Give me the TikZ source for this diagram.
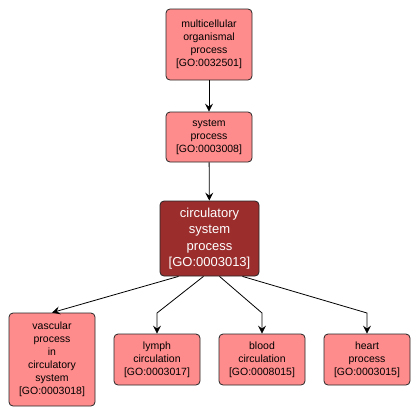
\documentclass[tikz,border=0pt]{standalone}
\usepackage{fontspec}
\setmainfont{Liberation Sans}
\usetikzlibrary{arrows.meta}
\definecolor{lightgo}{RGB}{255,140,140}
\definecolor{darkgo}{RGB}{155,45,45}
\begin{document}
\begin{tikzpicture}[x=1pt,y=-1pt,
  gobox/.style={draw=black!85, line width=0.8pt, rounded corners=4pt, fill=lightgo, align=center,
    inner sep=0pt, minimum width=86pt, font=\fontsize{10.5}{13}\selectfont},
  godark/.style={gobox, fill=darkgo, text=white, minimum width=99pt, minimum height=75pt,
    font=\fontsize{13}{16.5}\selectfont},
  arr/.style={draw=black, line width=0.8pt, -{Stealth[length=8pt,width=8pt,inset=3pt]}}]
\useasboundingbox (0,0) rectangle (420,416);
\node[gobox, minimum height=71pt] (mop) at (209,44.5) {multicellular\\organismal\\process\\{}[GO:0032501]};
\node[gobox, minimum height=50pt] (sp) at (209,137) {system\\process\\{}[GO:0003008]};
\node[godark] (csp) at (209.5,238.5) {circulatory\\system\\process\\{}[GO:0003013]};
\node[gobox, minimum height=93pt] (vp) at (52,359.5) {vascular\\process\\in\\circulatory\\system\\{}[GO:0003018]};
\node[gobox, minimum height=51pt] (lc) at (157,359.5) {lymph\\circulation\\{}[GO:0003017]};
\node[gobox, minimum height=51pt] (bc) at (262,359.5) {blood\\circulation\\{}[GO:0008015]};
\node[gobox, minimum height=51pt] (hp) at (367,359.5) {heart\\process\\{}[GO:0003015]};
\coordinate (blc) at (157,313);
\coordinate (bbc) at (262,313);
\coordinate (bhp) at (367,313);
\draw[arr] (mop) -- (sp);
\draw[arr] (sp) -- (csp);
\draw[arr] ([xshift=-31pt]csp.south) -- (vp.north);
\draw[arr] ([xshift=-6pt]csp.south) -- (blc) -- (lc.north);
\draw[arr] ([xshift=10pt]csp.south) -- (bbc) -- (bc.north);
\draw[arr] ([xshift=33pt]csp.south) -- (bhp) -- (hp.north);
\end{tikzpicture}
\end{document}
